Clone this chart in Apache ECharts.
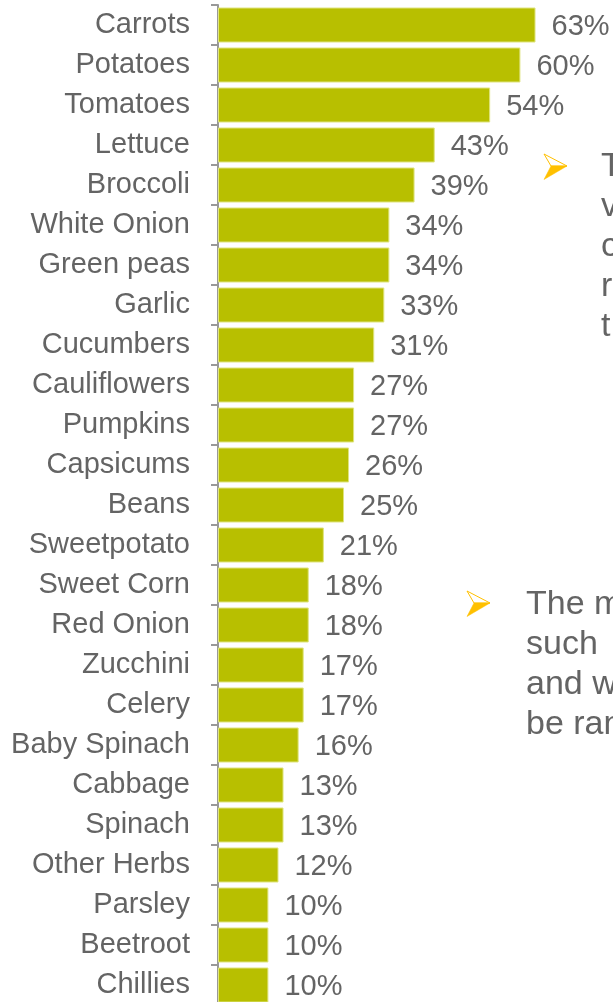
<!DOCTYPE html>
<html>
<head>
<meta charset="utf-8">
<style>
  html, body { margin: 0; padding: 0; background: #ffffff; }
  #chart { width: 613px; height: 1002px; }
</style>
<script src="https://cdn.jsdelivr.net/npm/echarts@6/dist/echarts.min.js"></script>
</head>
<body>
<div id="chart"></div>
<script>
// Vegetables, share of respondents (%)
const categories = [
  'Carrots', 'Potatoes', 'Tomatoes', 'Lettuce', 'Broccoli', 'White Onion',
  'Green peas', 'Garlic', 'Cucumbers', 'Cauliflowers', 'Pumpkins', 'Capsicums',
  'Beans', 'Sweetpotato', 'Sweet Corn', 'Red Onion', 'Zucchini', 'Celery',
  'Baby Spinach', 'Cabbage', 'Spinach', 'Other Herbs', 'Parsley', 'Beetroot', 'Chillies'
];
const shares = [
  63, 60, 54, 43, 39, 34,
  34, 33, 31, 27, 27, 26,
  25, 21, 18, 18, 17, 17,
  16, 13, 13, 12, 10, 10, 10
];

// Side notes (slide text running off the right edge)
const noteTop = ['T', 'v', 'c', 'r', 't'];
const noteBottom = ['The m', 'such', 'and w', 'be ran'];

const FONT = '"Liberation Sans", Arial, sans-serif';
const GREY = '#646464';
const BULLET = '#FFC000';

function bullet(x, y) {
  // arrowhead bullet: outlined upper half, filled lower half
  return [
    {
      type: 'polygon',
      shape: { points: [[x, y], [x + 23, y + 12], [x + 7, y + 12]] },
      style: { fill: '#ffffff', stroke: BULLET, lineWidth: 1 }
    },
    {
      type: 'polygon',
      shape: { points: [[x + 7, y + 12], [x + 23, y + 12], [x, y + 25.5]] },
      style: { fill: BULLET, stroke: BULLET, lineWidth: 0.5 }
    }
  ];
}

function noteLines(lines, x, y0) {
  return lines.map((t, i) => ({
    type: 'text',
    x: x,
    y: y0 + i * 40,
    style: {
      text: t,
      font: '34px ' + FONT,
      fill: GREY,
      verticalAlign: 'middle',
      align: 'left'
    }
  }));
}

const chart = echarts.init(document.getElementById('chart'), null, { renderer: 'canvas' });

chart.setOption({
  animation: false,
  backgroundColor: '#ffffff',
  grid: {
    left: 218, top: 5, width: 504, height: 1000,
    containLabel: false,
    outerBoundsMode: 'none'
  },
  xAxis: {
    type: 'value',
    min: 0,
    max: 100,
    show: false
  },
  yAxis: {
    type: 'category',
    data: categories,
    inverse: true,
    offset: 1,
    axisLine: { show: true, lineStyle: { color: '#999999', width: 2 } },
    axisTick: { show: true, length: 7, lineStyle: { color: '#999999', width: 2 } },
    axisLabel: {
      margin: 27,
      fontSize: 29,
      fontFamily: FONT,
      color: GREY,
      padding: [3, 0, 0, 0]
    },
    splitLine: { show: false }
  },
  series: [{
    type: 'bar',
    data: shares,
    barCategoryGap: '12.5%',
    itemStyle: {
      color: '#b8bf00',
      borderColor: '#dfe47e',
      borderWidth: 1
    },
    label: {
      show: true,
      position: 'right',
      distance: 16,
      offset: [0, 2],
      formatter: '{c}%',
      fontSize: 29,
      fontFamily: FONT,
      color: GREY
    }
  }],
  graphic: [
    ...bullet(544, 154),
    ...noteLines(noteTop, 601, 167),
    ...bullet(467, 591),
    ...noteLines(noteBottom, 526, 605)
  ]
});
</script>
</body>
</html>
